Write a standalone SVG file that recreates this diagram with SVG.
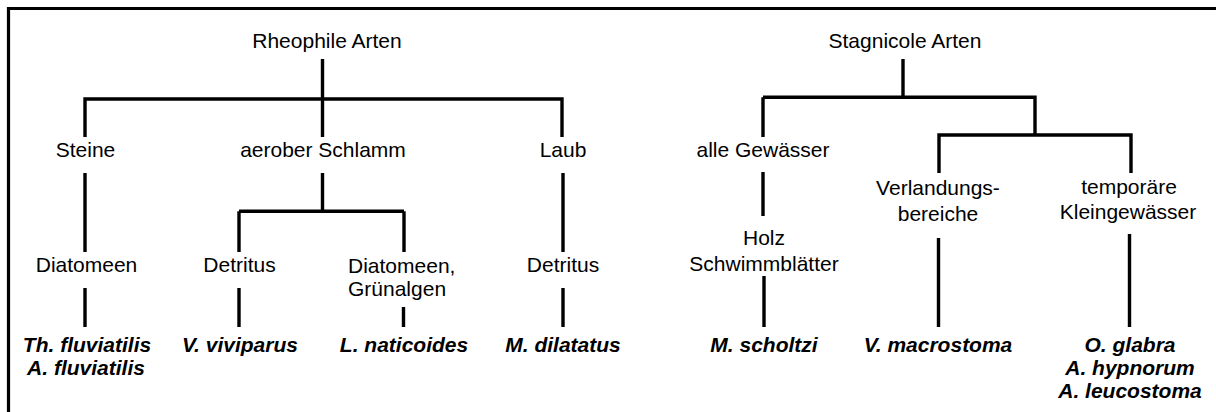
<svg xmlns="http://www.w3.org/2000/svg" width="1216" height="412" viewBox="0 0 1216 412">
<style>
text{font-family:"Liberation Sans",Arial,Helvetica,sans-serif;font-size:21px;fill:#000;text-anchor:middle}
.sp{font-weight:bold;font-style:italic}
.ln{stroke:#000;stroke-width:3.4;fill:none;stroke-linecap:butt;stroke-linejoin:miter}
.fr{stroke:#000;stroke-width:3.2;fill:none}
</style>
<rect width="1216" height="412" fill="#fff"/>
<path class="fr" d="M8.5,412 V8.5 H1216"/>
<g id="connectors">
<path class="ln" d="M322.5,59 V137 M85,99 H562 M85,97.3 V137 M562,97.3 V137"/>
<path class="ln" d="M85,173 V252 M322.5,173 V213 M239,211.3 H404 M239,211.3 V252 M404,211.3 V252 M563,173 V252"/>
<path class="ln" d="M85,288 V327 M239,288 V327 M403.5,307 V327 M563,288 V327"/>
<path class="ln" d="M903,59 V99 M763,97.3 H1035 V135 M763,97.3 V137 M939,135 H1131 M939,133.3 V173 M1131,133.3 V173"/>
<path class="ln" d="M763,172 V216 M764,276 V327 M938.5,238 V327 M1129.5,234 V327"/>
</g>
<g id="rheophile"><text x="327" y="48">Rheophile Arten</text></g>
<g id="steine"><text x="85.5" y="157">Steine</text></g>
<g id="aerober-schlamm"><text x="323" y="157">aerober Schlamm</text></g>
<g id="laub"><text x="563" y="157">Laub</text></g>
<g id="diatomeen"><text x="86.5" y="272">Diatomeen</text></g>
<g id="detritus-1"><text x="239.5" y="272">Detritus</text></g>
<g id="diatomeen-gruenalgen"><text x="348" y="273" style="text-anchor:start">Diatomeen,</text><text x="348" y="296" style="text-anchor:start">Grünalgen</text></g>
<g id="detritus-2"><text x="563" y="272">Detritus</text></g>
<g id="th-fluviatilis"><text class="sp" x="87" y="352">Th. fluviatilis</text><text class="sp" x="86" y="375">A. fluviatilis</text></g>
<g id="v-viviparus"><text class="sp" x="240" y="352">V. viviparus</text></g>
<g id="l-naticoides"><text class="sp" x="404" y="352">L. naticoides</text></g>
<g id="m-dilatatus"><text class="sp" x="563" y="352">M. dilatatus</text></g>
<g id="stagnicole"><text x="905" y="48">Stagnicole Arten</text></g>
<g id="alle-gewaesser"><text x="763" y="157">alle Gewässer</text></g>
<g id="verlandungsbereiche"><text x="938" y="195">Verlandungs-</text><text x="938" y="221">bereiche</text></g>
<g id="temporaere-kleingewaesser"><text x="1129" y="194">temporäre</text><text x="1128" y="219">Kleingewässer</text></g>
<g id="holz-schwimmblaetter"><text x="764" y="245">Holz</text><text x="764" y="271">Schwimmblätter</text></g>
<g id="m-scholtzi"><text class="sp" x="764" y="352">M. scholtzi</text></g>
<g id="v-macrostoma"><text class="sp" x="938" y="352">V. macrostoma</text></g>
<g id="o-glabra"><text class="sp" x="1130" y="352">O. glabra</text><text class="sp" x="1130" y="375">A. hypnorum</text><text class="sp" x="1130" y="398">A. leucostoma</text></g>
</svg>
